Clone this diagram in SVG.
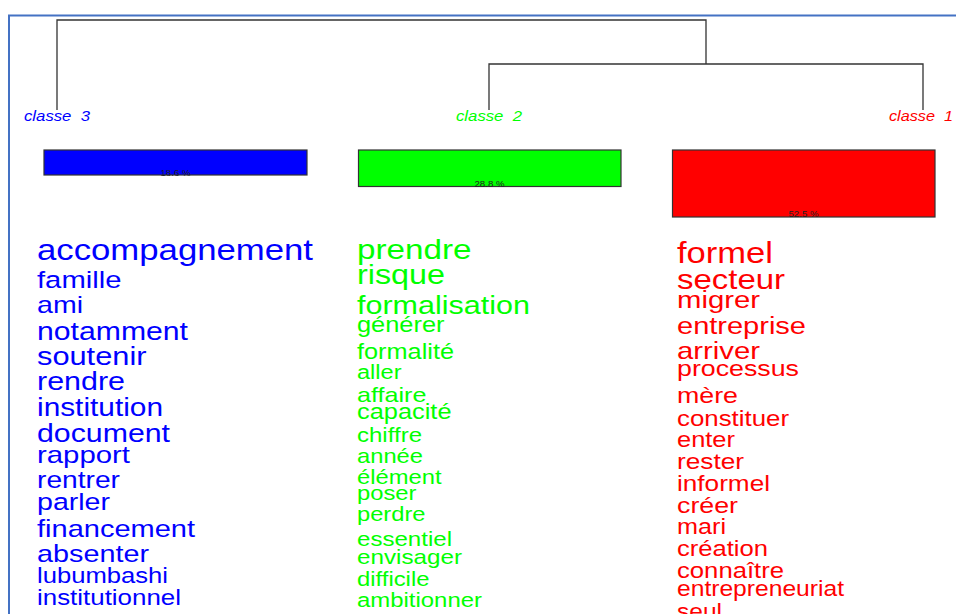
<svg xmlns="http://www.w3.org/2000/svg" width="956" height="614" viewBox="0 0 956 614">
<style>
text{font-family:"Liberation Sans",Arial,sans-serif;}
.lbl{font-style:italic;font-size:14px;}
.pct{font-size:9px;fill:#222;text-anchor:middle;}
.c3{fill:#0000FF;}
.c2{fill:#00FF00;}
.c1{fill:#FF0000;}
.bar{stroke:#333;stroke-width:1.2;}
.den{fill:none;stroke:#333;stroke-width:1.3;}
</style>
<rect width="956" height="614" fill="#fff"/>
<path d="M9,614 V15.5 H956" fill="none" stroke="#4472C4" stroke-width="2"/>
<g id="connectors">
<path class="den" d="M57,110 V20 H706 V64"/>
<path class="den" d="M489,110 V64 H923 V110"/>
</g>
<g id="classe3">
<text class="lbl c3" x="24" y="120.5" textLength="66" lengthAdjust="spacingAndGlyphs">classe&#160; 3</text>
<rect class="bar" x="44" y="150" width="263" height="25" fill="#0000FF"/>
<text class="pct" x="175.5" y="175.5" textLength="30" lengthAdjust="spacingAndGlyphs">18.6 %</text>
<g class="c3">
<text x="37" y="260" font-size="29.3" textLength="276" lengthAdjust="spacingAndGlyphs">accompagnement</text>
<text x="37" y="288" font-size="24.5" textLength="84.5" lengthAdjust="spacingAndGlyphs">famille</text>
<text x="37" y="313" font-size="24" textLength="46" lengthAdjust="spacingAndGlyphs">ami</text>
<text x="37" y="340" font-size="25.4" textLength="151" lengthAdjust="spacingAndGlyphs">notamment</text>
<text x="37" y="365" font-size="25.8" textLength="109.5" lengthAdjust="spacingAndGlyphs">soutenir</text>
<text x="37" y="389.5" font-size="25.5" textLength="88" lengthAdjust="spacingAndGlyphs">rendre</text>
<text x="37" y="415.5" font-size="25" textLength="126" lengthAdjust="spacingAndGlyphs">institution</text>
<text x="37" y="441.5" font-size="25.4" textLength="133" lengthAdjust="spacingAndGlyphs">document</text>
<text x="37" y="462.5" font-size="24.6" textLength="93" lengthAdjust="spacingAndGlyphs">rapport</text>
<text x="37" y="488" font-size="23.6" textLength="83" lengthAdjust="spacingAndGlyphs">rentrer</text>
<text x="37" y="510" font-size="23.9" textLength="73" lengthAdjust="spacingAndGlyphs">parler</text>
<text x="37" y="536.5" font-size="24.4" textLength="158" lengthAdjust="spacingAndGlyphs">financement</text>
<text x="37" y="561.5" font-size="24.2" textLength="112" lengthAdjust="spacingAndGlyphs">absenter</text>
<text x="37" y="582.5" font-size="21.5" textLength="131" lengthAdjust="spacingAndGlyphs">lubumbashi</text>
<text x="37" y="605" font-size="21.8" textLength="144" lengthAdjust="spacingAndGlyphs">institutionnel</text>
</g>
</g>
<g id="classe2">
<text class="lbl c2" x="456" y="120.5" textLength="66" lengthAdjust="spacingAndGlyphs">classe&#160; 2</text>
<rect class="bar" x="358.5" y="150" width="262.5" height="36.5" fill="#00FF00"/>
<text class="pct" x="489.5" y="186.5" textLength="30" lengthAdjust="spacingAndGlyphs">28.8 %</text>
<g class="c2">
<text x="357" y="258.5" font-size="27.8" textLength="114.5" lengthAdjust="spacingAndGlyphs">prendre</text>
<text x="357" y="283.5" font-size="27" textLength="88" lengthAdjust="spacingAndGlyphs">risque</text>
<text x="357" y="313.5" font-size="25.5" textLength="173" lengthAdjust="spacingAndGlyphs">formalisation</text>
<text x="357" y="331.5" font-size="21.3" textLength="87.5" lengthAdjust="spacingAndGlyphs">générer</text>
<text x="357" y="358.5" font-size="21.2" textLength="97" lengthAdjust="spacingAndGlyphs">formalité</text>
<text x="357" y="379" font-size="19.6" textLength="44.5" lengthAdjust="spacingAndGlyphs">aller</text>
<text x="357" y="401.5" font-size="20.8" textLength="69.5" lengthAdjust="spacingAndGlyphs">affaire</text>
<text x="357" y="419" font-size="21.2" textLength="94.5" lengthAdjust="spacingAndGlyphs">capacité</text>
<text x="357" y="441.5" font-size="20" textLength="65" lengthAdjust="spacingAndGlyphs">chiffre</text>
<text x="357" y="462.5" font-size="19.8" textLength="66" lengthAdjust="spacingAndGlyphs">année</text>
<text x="357" y="483.5" font-size="19.8" textLength="84.5" lengthAdjust="spacingAndGlyphs">élément</text>
<text x="357" y="499.5" font-size="19.8" textLength="59.5" lengthAdjust="spacingAndGlyphs">poser</text>
<text x="357" y="521" font-size="19.8" textLength="68.5" lengthAdjust="spacingAndGlyphs">perdre</text>
<text x="357" y="546" font-size="20.2" textLength="95" lengthAdjust="spacingAndGlyphs">essentiel</text>
<text x="357" y="563.5" font-size="20.2" textLength="105" lengthAdjust="spacingAndGlyphs">envisager</text>
<text x="357" y="586" font-size="19.9" textLength="72.5" lengthAdjust="spacingAndGlyphs">difficile</text>
<text x="357" y="606.5" font-size="20.1" textLength="125" lengthAdjust="spacingAndGlyphs">ambitionner</text>
</g>
</g>
<g id="classe1">
<text class="lbl c1" x="889" y="120.5" textLength="64" lengthAdjust="spacingAndGlyphs">classe&#160; 1</text>
<rect class="bar" x="672.5" y="150" width="262.5" height="67" fill="#FF0000"/>
<text class="pct" x="803.5" y="216.5" textLength="30" lengthAdjust="spacingAndGlyphs">52.5 %</text>
<g class="c1">
<text x="677" y="263" font-size="29" textLength="96" lengthAdjust="spacingAndGlyphs">formel</text>
<text x="677" y="289" font-size="27.6" textLength="108" lengthAdjust="spacingAndGlyphs">secteur</text>
<text x="677" y="308" font-size="24.6" textLength="83" lengthAdjust="spacingAndGlyphs">migrer</text>
<text x="677" y="334" font-size="24.4" textLength="129" lengthAdjust="spacingAndGlyphs">entreprise</text>
<text x="677" y="359" font-size="24.6" textLength="83" lengthAdjust="spacingAndGlyphs">arriver</text>
<text x="677" y="376" font-size="22.5" textLength="122" lengthAdjust="spacingAndGlyphs">processus</text>
<text x="677" y="403" font-size="22.5" textLength="61" lengthAdjust="spacingAndGlyphs">mère</text>
<text x="677" y="426" font-size="21.7" textLength="112" lengthAdjust="spacingAndGlyphs">constituer</text>
<text x="677" y="447" font-size="21.3" textLength="58" lengthAdjust="spacingAndGlyphs">enter</text>
<text x="677" y="469" font-size="21.3" textLength="67" lengthAdjust="spacingAndGlyphs">rester</text>
<text x="677" y="491" font-size="21.3" textLength="93" lengthAdjust="spacingAndGlyphs">informel</text>
<text x="677" y="513" font-size="21.3" textLength="61" lengthAdjust="spacingAndGlyphs">créer</text>
<text x="677" y="534" font-size="21.3" textLength="49" lengthAdjust="spacingAndGlyphs">mari</text>
<text x="677" y="556" font-size="21.3" textLength="91" lengthAdjust="spacingAndGlyphs">création</text>
<text x="677" y="578" font-size="21.3" textLength="107" lengthAdjust="spacingAndGlyphs">connaître</text>
<text x="677" y="596" font-size="21.3" textLength="167" lengthAdjust="spacingAndGlyphs">entrepreneuriat</text>
<text x="677" y="619" font-size="21.3" textLength="45" lengthAdjust="spacingAndGlyphs">seul</text>
</g>
</g>
</svg>
